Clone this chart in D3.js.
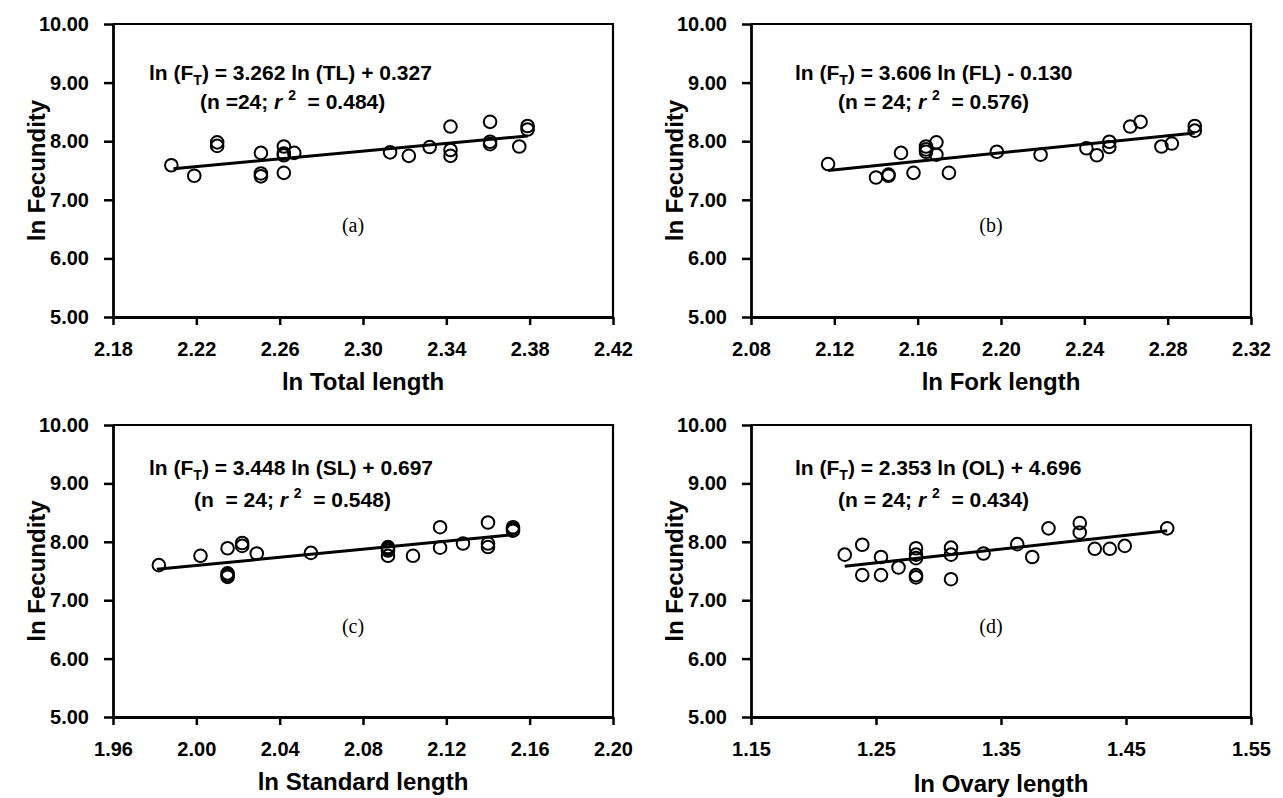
<!DOCTYPE html>
<html>
<head>
<meta charset="utf-8">
<script src="https://cdn.jsdelivr.net/npm/d3@7"></script>
<style>
  html, body { margin: 0; padding: 0; background: #fff; }
  svg { display: block; }
  text { white-space: pre; }
</style>
</head>
<body>
<script>
// ---------- DATA ----------
const yTicks = [5, 6, 7, 8, 9, 10];

// (a) ln Total length
const aTicks = [2.18, 2.22, 2.26, 2.30, 2.34, 2.38, 2.42];
const aX = [2.208, 2.219, 2.230, 2.230, 2.251, 2.251, 2.251, 2.262, 2.262, 2.262, 2.262, 2.267,
            2.313, 2.322, 2.332, 2.342, 2.342, 2.342, 2.361, 2.361, 2.361, 2.375, 2.379, 2.379];
const aY = [7.59, 7.41, 7.98, 7.92, 7.80, 7.45, 7.40, 7.91, 7.79, 7.76, 7.46, 7.80,
            7.81, 7.75, 7.90, 8.25, 7.85, 7.75, 8.33, 7.99, 7.95, 7.91, 8.26, 8.20];
const aFitX = [2.209, 2.379];
const aFitY = [7.53, 8.09];

// (b) ln Fork length
const bTicks = [2.08, 2.12, 2.16, 2.20, 2.24, 2.28, 2.32];
const bX = [2.117, 2.140, 2.146, 2.146, 2.152, 2.158, 2.164, 2.164, 2.164, 2.169, 2.169, 2.175,
            2.198, 2.219, 2.241, 2.246, 2.252, 2.252, 2.262, 2.267, 2.277, 2.282, 2.293, 2.293];
const bY = [7.61, 7.38, 7.41, 7.43, 7.80, 7.46, 7.91, 7.86, 7.82, 7.98, 7.77, 7.46,
            7.82, 7.77, 7.88, 7.76, 7.99, 7.90, 8.25, 8.33, 7.91, 7.96, 8.26, 8.18];
const bFitX = [2.117, 2.293];
const bFitY = [7.50, 8.14];

// (c) ln Standard length
const cTicks = [1.96, 2.00, 2.04, 2.08, 2.12, 2.16, 2.20];
const cX = [1.982, 2.002, 2.015, 2.015, 2.015, 2.015, 2.022, 2.022, 2.029, 2.055, 2.092, 2.092,
            2.092, 2.092, 2.104, 2.117, 2.117, 2.128, 2.140, 2.140, 2.140, 2.152, 2.152, 2.152];
const cY = [7.60, 7.76, 7.89, 7.46, 7.43, 7.40, 7.98, 7.93, 7.80, 7.81, 7.91, 7.88,
            7.85, 7.76, 7.76, 8.25, 7.90, 7.97, 8.33, 7.97, 7.91, 8.25, 8.22, 8.19];
const cFitX = [1.981, 2.152];
const cFitY = [7.53, 8.12];

// (d) ln Ovary length
const dTicks = [1.15, 1.25, 1.35, 1.45, 1.55];
const dX = [1.225, 1.239, 1.239, 1.254, 1.254, 1.268, 1.282, 1.282, 1.282, 1.282, 1.282, 1.310,
            1.310, 1.310, 1.336, 1.363, 1.375, 1.388, 1.413, 1.413, 1.425, 1.437, 1.449, 1.483];
const dY = [7.78, 7.95, 7.43, 7.74, 7.43, 7.56, 7.89, 7.78, 7.72, 7.43, 7.39, 7.90,
            7.78, 7.36, 7.80, 7.96, 7.74, 8.23, 8.32, 8.16, 7.88, 7.88, 7.93, 8.23];
const dFitX = [1.225, 1.483];
const dFitY = [7.58, 8.19];

const xTitles = ["ln Total length", "ln Fork length", "ln Standard length", "ln Ovary length"];
const yTitle = "ln Fecundity";
const eqVar = ["TL", "FL", "SL", "OL"];
const eqSlope = ["3.262", "3.606", "3.448", "2.353"];
const eqTail = ["+ 0.327", "- 0.130", "+ 0.697", "+ 4.696"];
const eqN = ["(n =24; ", "(n = 24; ", "(n  = 24; ", "(n = 24; "];
const eqR2 = ["0.484", "0.576", "0.548", "0.434"];
const panelTags = ["(a)", "(b)", "(c)", "(d)"];

// ---------- LAYOUT ----------
const W = 1283, H = 798;
const cols = [{l: 113, r: 613}, {l: 751, r: 1251}];
const rows = [{t: 24, b: 317}, {t: 425, b: 717}];

const panels = [
  {ticks: aTicks, xs: aX, ys: aY, fx: aFitX, fy: aFitY, c: 0, r: 0},
  {ticks: bTicks, xs: bX, ys: bY, fx: bFitX, fy: bFitY, c: 1, r: 0},
  {ticks: cTicks, xs: cX, ys: cY, fx: cFitX, fy: cFitY, c: 0, r: 1},
  {ticks: dTicks, xs: dX, ys: dY, fx: dFitX, fy: dFitY, c: 1, r: 1}
];

const svg = d3.select("body").append("svg")
  .attr("width", W).attr("height", H)
  .attr("font-family", "'Liberation Sans', Arial, sans-serif");

svg.append("rect").attr("width", W).attr("height", H).attr("fill", "#fff");

const fmt = d3.format(".2f");

panels.forEach((p, i) => {
  const col = cols[p.c], row = rows[p.r];
  const x = d3.scaleLinear().domain([p.ticks[0], p.ticks[p.ticks.length - 1]]).range([col.l, col.r]);
  const y = d3.scaleLinear().domain([5, 10]).range([row.b, row.t]);
  const g = svg.append("g");

  // frame (top & right)
  g.append("path")
    .attr("d", `M${col.l},${row.t}H${col.r}V${row.b}`)
    .attr("fill", "none").attr("stroke", "#000").attr("stroke-width", 2.2);

  // x axis
  const xa = g.append("g").attr("transform", `translate(0,${row.b})`)
    .call(d3.axisBottom(x).tickValues(p.ticks).tickFormat(fmt).tickSizeInner(8).tickSizeOuter(0).tickPadding(17));
  // y axis
  const ya = g.append("g").attr("transform", `translate(${col.l},0)`)
    .call(d3.axisLeft(y).tickValues(yTicks).tickFormat(fmt).tickSizeInner(9).tickSizeOuter(0).tickPadding(15));
  [xa, ya].forEach(a => {
    a.select(".domain").attr("stroke", "#000").attr("stroke-width", 2.8);
    a.selectAll(".tick line").attr("stroke", "#000").attr("stroke-width", 2.5);
    a.selectAll(".tick text").attr("fill", "#000")
      .attr("font-size", 20).attr("font-weight", "bold")
      .attr("font-family", "'Liberation Sans', Arial, sans-serif");
  });

  // axis titles
  g.append("text")
    .attr("x", (col.l + col.r) / 2).attr("y", row.b + (i === 3 ? 75 : 73))
    .attr("text-anchor", "middle").attr("font-size", 24).attr("font-weight", "bold")
    .text(xTitles[i]);
  g.append("text")
    .attr("transform", `translate(${col.l - 68},${(row.t + row.b) / 2}) rotate(-90)`)
    .attr("text-anchor", "middle").attr("font-size", 24).attr("font-weight", "bold")
    .text(yTitle);

  // regression line
  g.append("line")
    .attr("x1", x(p.fx[0])).attr("y1", y(p.fy[0]))
    .attr("x2", x(p.fx[1])).attr("y2", y(p.fy[1]))
    .attr("stroke", "#000").attr("stroke-width", 3);

  // points
  g.selectAll("circle.pt").data(p.xs.map((v, k) => [v, p.ys[k]])).enter()
    .append("circle").attr("class", "pt")
    .attr("cx", d => x(d[0])).attr("cy", d => y(d[1])).attr("r", 6.3)
    .attr("fill", "none").attr("stroke", "#000").attr("stroke-width", 2);

  // equation
  const ex1 = col.l + (p.c === 0 ? 36 : 44);
  const ex2 = col.l + (i === 2 ? 81 : 87);
  const ey1 = row.t + (p.r === 0 ? 56 : 50);
  const ey2 = row.t + (p.r === 0 ? 85 : 82);
  const t1 = g.append("text").attr("x", ex1).attr("y", ey1)
    .attr("font-size", 21).attr("font-weight", "bold");
  t1.append("tspan").text("ln (F");
  t1.append("tspan").attr("font-size", 14).attr("dy", 5).text("T");
  t1.append("tspan").attr("dy", -5).text(`) = ${eqSlope[i]} ln (${eqVar[i]}) ${eqTail[i]}`);

  const t2 = g.append("text").attr("x", ex2).attr("y", ey2)
    .attr("font-size", 21).attr("font-weight", "bold");
  t2.append("tspan").text(eqN[i]);
  t2.append("tspan").attr("font-style", "italic").text("r ");
  t2.append("tspan").attr("font-size", 14).attr("dy", -9).text("2");
  t2.append("tspan").attr("dy", 9).text(`  = ${eqR2[i]})`);

  // panel tag
  g.append("text")
    .attr("x", col.l + 240).attr("y", row.t + 208)
    .attr("text-anchor", "middle")
    .attr("font-family", "'Liberation Serif', 'Times New Roman', serif")
    .attr("font-size", 20)
    .text(panelTags[i]);
});
</script>
</body>
</html>
